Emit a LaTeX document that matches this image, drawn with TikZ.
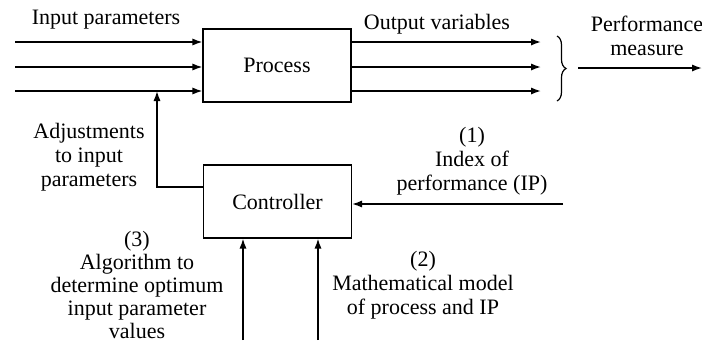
\documentclass[tikz,border=0pt]{standalone}
\usepackage{fontspec}
\setmainfont{Liberation Serif}
\usetikzlibrary{positioning,arrows.meta,decorations.pathreplacing}

\begin{document}
\begin{tikzpicture}[x=0.5pt, y=-0.5pt,
    every node/.style={font=\fontsize{11}{12}\selectfont},
    block/.style={rectangle, draw, line width=0.6pt, minimum width=74pt,
      minimum height=36.5pt, align=center},
    lbl/.style={align=center, inner sep=0pt},
    flow/.style={-{Latex[length=5pt,width=3.6pt]}, line width=0.75pt}]
    \useasboundingbox (0,0) rectangle (702,344);
    \node[block] (process) at (277,65.5) {Process};
    \node[block] (controller) at (277.5,201.5) {Controller};
    % inputs and outputs of the process
    \foreach \y [count=\i] in {42,67,91} {
      \coordinate (in\i) at (15,\y);
      \coordinate (out\i) at (541,\y);
      \draw[flow] (in\i) -- (in\i -| process.west);
      \draw[flow] (out\i -| process.east) -- (out\i);
    }
    \node[lbl] (inlbl) at (106,20) {Input parameters};
    \node[lbl] (outlbl) at (437,24) {Output variables};
    % brace and performance measure
    \coordinate (brtop) at (557,36);
    \coordinate (brbot) at (557,101);
    \draw[decorate, decoration={brace, amplitude=4.5pt}, line width=0.6pt] (brtop) -- (brbot);
    \coordinate (brtip) at (578,68);
    \coordinate (pm) at (702,68);
    \draw[flow] (brtip) -- (pm);
    \node[lbl] (pmlbl) at (647,36) {Performance\\measure};
    % feedback to the inputs
    \coordinate (fb) at (157,187);
    \draw[flow] (fb -| controller.west) -- (fb) -- (fb |- in3);
    \node[lbl] (adjlbl) at (89,157.5) {Adjustments\\to input\\parameters};
    % inputs of the controller
    \coordinate (ip) at (563,204);
    \draw[flow] (ip) -- (ip -| controller.east);
    \node[lbl] (iplbl) at (472,161.5) {(1)\\Index of\\performance (IP)};
    \coordinate (alg) at (243,340);
    \coordinate (mod) at (318,340);
    \draw[flow] (alg) -- (alg |- controller.south);
    \draw[flow] (mod) -- (mod |- controller.south);
    \node[lbl, font=\fontsize{11}{11.5}\selectfont] (alglbl) at (137,285)
      {(3)\\Algorithm to\\determine optimum\\input parameter\\values};
    \node[lbl] (modlbl) at (423,285) {(2)\\Mathematical model\\of process and IP};
\end{tikzpicture}
\end{document}
